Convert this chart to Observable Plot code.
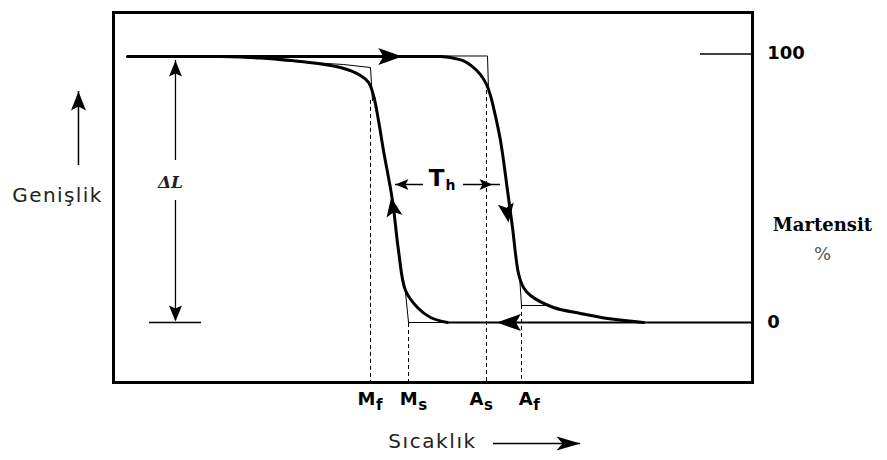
<!DOCTYPE html>
<html><head><meta charset="utf-8">
<script src="https://cdn.jsdelivr.net/npm/d3@7"></script>
<script src="https://cdn.jsdelivr.net/npm/@observablehq/plot@0.6"></script>
<style>html,body{margin:0;padding:0;background:#fff}</style>
</head><body><div id="chart"></div>
<script>
// ---------- data: x = temperature (arbitrary units, 0..100 across the frame), y = % martensite ----------
const transitionNames = ["M", "M", "A", "A"];
const transitionSubs = ["f", "s", "s", "f"];
const transitionTemps = [40.22, 46.17, 58.37, 63.85];   // Mf, Ms, As, Af
const transitionDashTop = [83.5, -0.4, 87.2, 6.4];      // start of each dashed guide
const transitionLabelX = [41.0, 47.6, 57.9, 65.6];

// cooling branch (martensite forms): high temperature -> low temperature
const coolingCurve = [
  [52.27, 0], [49.61, 1.88], [47.57, 5.64], [45.70, 12.03], [44.60, 27.07],
  [43.66, 45.86], [42.25, 64.66], [41.47, 75.94], [40.69, 85.34], [39.91, 90.23],
  [38.65, 92.86], [35.52, 95.86], [29.26, 98.12], [23.00, 99.44], [16.74, 100]
];
// heating branch (martensite reverts)
const heatingCurve = [
  [51.17, 100], [52.74, 99.6], [54.62, 98.5], [56.18, 96.2], [57.43, 93.2],
  [58.37, 89.5], [59.0, 85.3], [59.47, 80.83], [60.56, 68.42], [61.66, 49.62],
  [62.44, 35.71], [63.38, 18.42], [64.16, 13.16], [65.26, 10.15], [68.86, 5.64],
  [73.08, 3.38], [77.31, 1.50], [82.94, 0]
];
const upperLevel = [[2.19, 100], [51.17, 100]];
const lowerLevelThin = [[46.17, 0], [52.27, 0]];
const lowerLevel = [[52.27, 0], [100, 0]];
const coolingTangents = [[25.67, 98.5], [35.99, 96.99], [40.22, 95.86], [40.53, 83.46]];
const heatingTangents = [[51.17, 100.19], [58.53, 100.19], [58.69, 87.22]];
const coolingFoot = [[45.70, 11.28], [46.17, 0]];
const heatingFoot = [[63.54, 17.67], [63.85, 6.39], [68.39, 6.39]];

const rightTickValues = [100.94];
const rightTickFrom = [91.86];
const rightLabels = ["100", "0"];
const rightLabelY = [101.3, 0.2];

// dimension arrows: ΔL, T_h, axis arrows
const deltaLSegments = [[9.70, 98.5, 60.9], [9.70, 45.86, 0.75]];   // x, y1, y2
const deltaLFoot = [[5.63, 13.77, 0]];                               // x1, x2, y
const hysteresisSegments = [[44.13, 48.51, 51.88], [54.77, 60.56, 51.88]]; // x1, x2, y
const yAxisArrow = [[-5.48, 59.02, 86.84]];
const xAxisArrow = [[59.47, 73.08, -45.49]];

// arrowheads: tip position, direction (deg, screen), kind
const arrowTips = [
  {x: 45.2, y: 100, angle: 0, kind: "big"},
  {x: 60.0, y: 0, angle: 180, kind: "big"},
  {x: 43.45, y: 47.0, angle: -100, kind: "curve"},
  {x: 61.82, y: 37.59, angle: 82, kind: "curve"},
  {x: 44.13, y: 51.88, angle: 180, kind: "small"},
  {x: 59.31, y: 51.88, angle: 0, kind: "small"},
  {x: 9.70, y: 98.5, angle: -90, kind: "dim"},
  {x: 9.70, y: 0.38, angle: 90, kind: "dim"},
  {x: -5.48, y: 86.84, angle: -90, kind: "axisY"},
  {x: 73.08, y: -45.49, angle: 0, kind: "axisX"}
];

const labels = [
  {x: -8.76, y: 47.74, text: "Genişlik"},
  {x: 49.92, y: -44.74, text: "Sıcaklık"}
];

// ---------- styles ----------
const headSizes = {big: [24, 17, 5], curve: [19, 16, 4], small: [13, 11, 3], dim: [16, 13, 3], axisY: [19, 15, 4], axisX: [24, 14, 6]};

function headSymbol(angle, [L, W, notch]) {
  const a = angle * Math.PI / 180, c = Math.cos(a), s = Math.sin(a);
  const pts = [[0, 0], [-L, -W / 2], [-L + notch, 0], [-L, W / 2]]
    .map(([px, py]) => [px * c - py * s, px * s + py * c]);
  return {draw(ctx) {
    ctx.moveTo(pts[0][0], pts[0][1]);
    for (let i = 1; i < pts.length; i++) ctx.lineTo(pts[i][0], pts[i][1]);
    ctx.closePath();
  }};
}

const X = d => d[0], Y = d => d[1];
const dashed = transitionTemps.map((t, i) => ({x: t, y1: transitionDashTop[i], y2: -22.56}));
const subLabels = transitionTemps.map((t, i) => ({x: transitionLabelX[i], name: transitionNames[i], sub: transitionSubs[i]}));

const marks = [
  Plot.frame({stroke: "#000", strokeWidth: 3}),
  Plot.ruleX(dashed, {x: "x", y1: "y1", y2: "y2", stroke: "#000", strokeWidth: 1, strokeDasharray: "4,3"}),
  Plot.line(coolingTangents, {x: X, y: Y, stroke: "#000", strokeWidth: 1}),
  Plot.line(heatingTangents, {x: X, y: Y, stroke: "#000", strokeWidth: 1}),
  Plot.line(coolingFoot, {x: X, y: Y, stroke: "#000", strokeWidth: 1}),
  Plot.line(heatingFoot, {x: X, y: Y, stroke: "#000", strokeWidth: 1}),
  Plot.line(lowerLevelThin, {x: X, y: Y, stroke: "#000", strokeWidth: 1.2}),
  Plot.line(lowerLevel, {x: X, y: Y, stroke: "#000", strokeWidth: 2}),
  Plot.line(upperLevel, {x: X, y: Y, stroke: "#000", strokeWidth: 3}),
  Plot.line(coolingCurve, {x: X, y: Y, stroke: "#000", strokeWidth: 3, curve: "catmull-rom"}),
  Plot.line(heatingCurve, {x: X, y: Y, stroke: "#000", strokeWidth: 3, curve: "catmull-rom"}),
  Plot.ruleY(rightTickValues, {x1: rightTickFrom, x2: 100, stroke: "#000", strokeWidth: 1.5}),
  Plot.ruleX(deltaLSegments, {x: d => d[0], y1: d => d[1], y2: d => d[2], stroke: "#000", strokeWidth: 1.3}),
  Plot.ruleY(deltaLFoot, {x1: d => d[0], x2: d => d[1], y: d => d[2], stroke: "#000", strokeWidth: 1.5}),
  Plot.ruleY(hysteresisSegments, {x1: d => d[0], x2: d => d[1], y: d => d[2], stroke: "#000", strokeWidth: 1.5}),
  Plot.ruleX(yAxisArrow, {x: d => d[0], y1: d => d[1], y2: d => d[2], stroke: "#000", strokeWidth: 1.5}),
  Plot.ruleY(xAxisArrow, {x1: d => d[0], x2: d => d[1], y: d => d[2], stroke: "#000", strokeWidth: 1.5}),
  ...arrowTips.map(a => Plot.dot([a], {x: "x", y: "y", r: 4, symbol: headSymbol(a.angle, headSizes[a.kind]), fill: "#000", stroke: "none"})),
  Plot.text(labels, {x: "x", y: "y", text: "text", fontFamily: "DejaVu Sans", fontSize: 20, fill: "#222"}),
  Plot.text(subLabels, {x: "x", y: -28.95, text: "name", textAnchor: "end", fontFamily: "DejaVu Sans", fontWeight: "bold", fontSize: 18, fill: "#000"}),
  Plot.text(subLabels, {x: "x", y: -31.2, text: "sub", textAnchor: "start", dx: 0.5, fontFamily: "DejaVu Sans", fontWeight: "bold", fontSize: 15, fill: "#000"}),
  Plot.text(rightLabels, {x: 102.3, y: (d, i) => rightLabelY[i], text: d => d, textAnchor: "start", fontFamily: "DejaVu Sans", fontWeight: "bold", fontSize: 18, fill: "#000"}),
  Plot.text(["Martensit"], {x: 110.95, y: 36.47, text: d => d, fontFamily: "DejaVu Serif", fontWeight: "bold", fontSize: 18, fill: "#000"}),
  Plot.text(["%"], {x: 110.95, y: 25.56, text: d => d, fontFamily: "DejaVu Sans", fontSize: 18, fill: "#555"}),
  Plot.text(["ΔL"], {x: 8.92, y: 52.63, text: d => d, fontFamily: "DejaVu Serif", fontStyle: "italic", fontWeight: "bold", fontSize: 17, fill: "#222"}),
  Plot.text(["T"], {x: 50.55, y: 53.95, text: d => d, fontFamily: "DejaVu Sans", fontWeight: "bold", fontSize: 23, fill: "#000"}),
  Plot.text(["h"], {x: 52.74, y: 51.5, text: d => d, fontFamily: "DejaVu Sans", fontWeight: "bold", fontSize: 14, fill: "#000"})
];

const chart = Plot.plot({
  width: 887, height: 460,
  marginLeft: 113, marginRight: 135, marginTop: 12, marginBottom: 78,
  x: {domain: [0, 100], axis: null},
  y: {domain: [-22.56, 116.54], axis: null},
  style: {background: "#fff", fontFamily: "DejaVu Sans", overflow: "visible"},
  marks
});
d3.select(chart).selectAll("text").each(function () {
  const t = this.textContent;
  if (t === "Genişlik") this.style.letterSpacing = "1.4px";
  if (t === "Sıcaklık") this.style.letterSpacing = "1.6px";
});
document.getElementById("chart").appendChild(chart);
</script>
</body></html>
